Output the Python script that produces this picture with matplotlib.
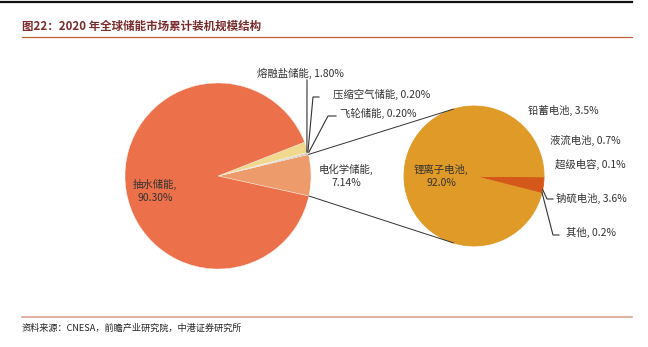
import numpy as np
import matplotlib
matplotlib.use('Agg')
import matplotlib.pyplot as plt
from matplotlib.patches import ConnectionPatch
from matplotlib.transforms import Bbox, TransformedBbox

plt.rcParams['font.family'] = ['Noto Sans CJK SC', 'DejaVu Sans']

# left pie: global storage by technology (%)
left_names = ['电化学储能', '飞轮储能', '压缩空气储能', '熔融盐储能', '抽水储能']
left_values = [7.14, 0.20, 0.20, 1.80, 90.30]
left_colors = ['#EE9B6C', '#B9B2A8', '#C9C2B5', '#F0D98C', '#EC704A']

# right pie: electrochemical split (%)
right_names = ['其他', '钠硫电池', '超级电容', '液流电池', '铅蓄电池', '锂离子电池']
right_values = [0.2, 3.6, 0.1, 0.7, 3.5, 92.0]
right_colors = ['#E09A28', '#D4581A', '#E09A28', '#E09A28', '#E09A28', '#E09A28']

W, H = 648, 347
fig = plt.figure(figsize=(W / 100, H / 100), dpi=100)
ax = fig.add_axes([0, 0, 1, 1])


def Y(py):
    return H - py


lc = (218, Y(176))
lr = 93
rc = (474, Y(176))
rr = 70

lw, _ = ax.pie(left_values, colors=left_colors, startangle=-12.4,
               center=lc, radius=lr, frame=True,
               wedgeprops=dict(linewidth=0.3, edgecolor='#F7F2EA'))
rw, _ = ax.pie(right_values, colors=right_colors, startangle=-14.4,
               center=rc, radius=rr, frame=True)
for w in rw:
    w.set_edgecolor(w.get_facecolor())
    w.set_linewidth(0.6)

ax.set_xlim(0, W)
ax.set_ylim(0, H)
ax.set_aspect('auto')
ax.axis('off')


def edge(c, r, ang):
    a = np.deg2rad(ang)
    return (c[0] + r * np.cos(a), c[1] + r * np.sin(a))


# zoom connectors
ec = lw[0]
for ang_l, ang_r in [(ec.theta2, 107), (ec.theta1, -107)]:
    p1 = edge(lc, lr, ang_l)
    p2 = edge(rc, rr, ang_r)
    ax.add_artist(ConnectionPatch(p1, p2, 'data', 'data', color='#333333', lw=0.7))

txt = dict(fontsize=7.5, color='#333333')
clip = TransformedBbox(Bbox([[0, 0], [629, H]]), ax.transData)

# inside labels
ax.text(155, Y(191), f'{left_names[4]},\n{left_values[4]:.2f}%', ha='center', va='center',
        linespacing=1.3, **txt)
ax.text(441, Y(176), f'{right_names[5]},\n{right_values[5]:.1f}%', ha='center', va='center',
        linespacing=1.3, **txt)
ax.text(346, Y(176), f'{left_names[0]},\n{left_values[0]:.2f}%', ha='center', va='center',
        linespacing=1.3, **txt)

# small left wedges with leader lines
tip = edge(lc, lr, lw[2].theta2)
ax.text(257, Y(73), f'{left_names[3]}, {left_values[3]:.2f}%', ha='left', va='center', **txt)
ax.plot([307, tip[0] - 1], [Y(80), tip[1]], color='#333333', lw=0.8)
ax.text(333, Y(94), f'{left_names[2]}, {left_values[2]:.2f}%', ha='left', va='center', **txt)
ax.plot([319, 313, tip[0]], [Y(97), Y(97), tip[1]], color='#333333', lw=0.8)
ax.text(340, Y(113), f'{left_names[1]}, {left_values[1]:.2f}%', ha='left', va='center', **txt)
ax.plot([336, 328, tip[0] + 1], [Y(116), Y(116), tip[1]], color='#333333', lw=0.8)

# right labels
for name, val, x, y in [(right_names[4], right_values[4], 528, 110),
                        (right_names[3], right_values[3], 550, 140),
                        (right_names[2], right_values[2], 555, 164),
                        (right_names[1], right_values[1], 556, 198),
                        (right_names[0], right_values[0], 566, 232)]:
    t = ax.text(x, Y(y), f'{name}, {val:.1f}%', ha='left', va='center', **txt)
    t.set_clip_box(clip)
    t.set_clip_on(True)

p_nas = edge(rc, rr, (rw[1].theta1 + rw[1].theta2) / 2 - 4)
ax.plot([p_nas[0], 547, 553], [p_nas[1], Y(199), Y(199)], color='#333333', lw=0.8)
p_oth = edge(rc, rr, rw[0].theta2)
ax.plot([p_oth[0], 553, 559], [p_oth[1], Y(235), Y(235)], color='#333333', lw=0.8)

# header / footer decorations
ax.plot([0, 632], [Y(2), Y(2)], color='#111111', lw=1.6, clip_on=False)
ax.text(22, Y(26), '图22：2020 年全球储能市场累计装机规模结构', ha='left', va='center',
        fontsize=8.3, fontweight='bold', color='#7A2B2B')
ax.plot([22, 632], [Y(37), Y(37)], color='#C0603F', lw=0.9)
ax.plot([22, 632], [Y(317), Y(317)], color='#D9A391', lw=1.2)
ax.text(22, Y(328), '资料来源：CNESA，前瞻产业研究院，中港证券研究所', ha='left', va='center',
        fontsize=6.6, style='italic', color='#222222')

fig.savefig('out.png', dpi=100)
